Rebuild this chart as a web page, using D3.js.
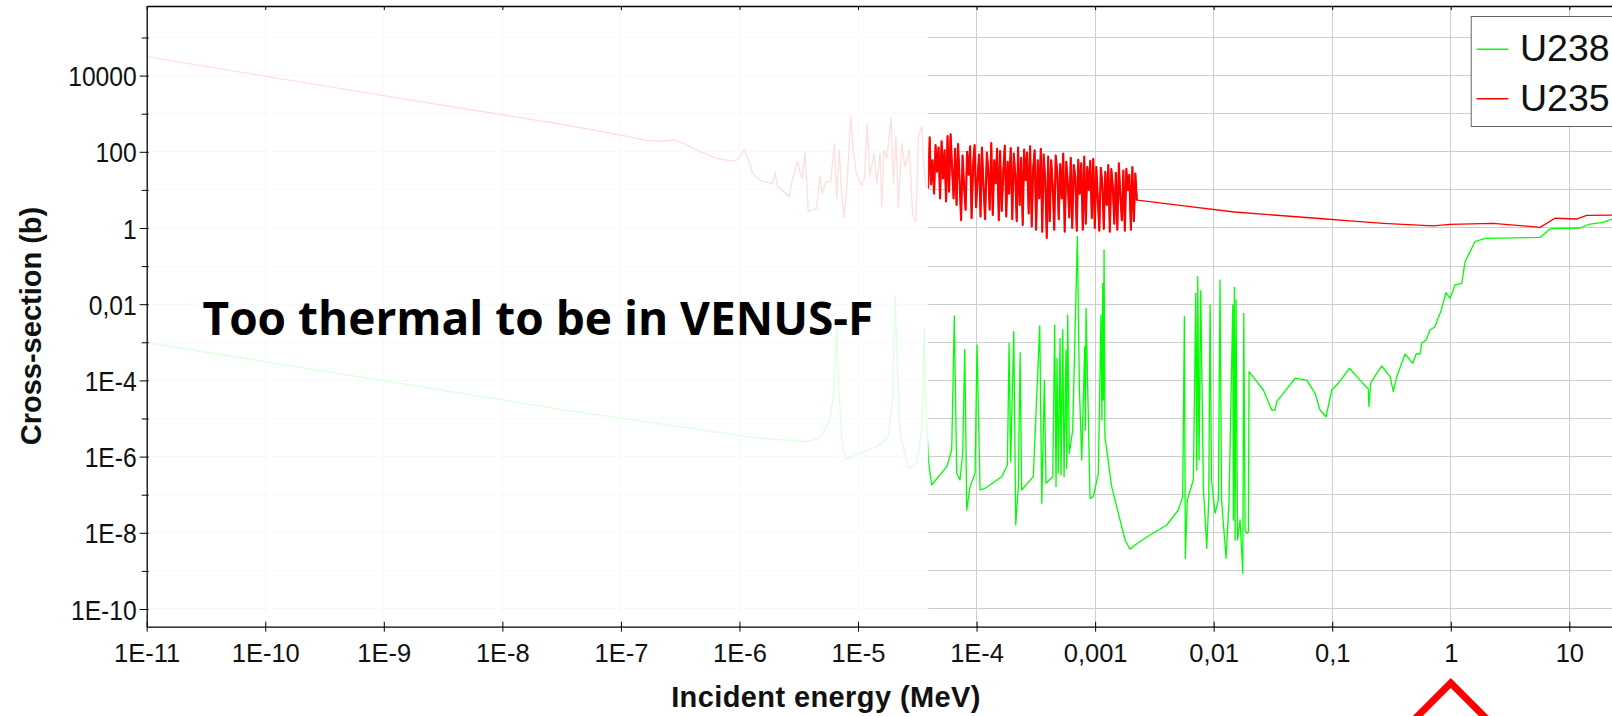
<!DOCTYPE html>
<html>
<head>
<meta charset="utf-8">
<title>Fission cross-sections U235 / U238</title>
<script src="https://cdn.jsdelivr.net/npm/d3@7"></script>
<style>
  body { margin: 0; background: #fff; }
  svg { display: block; }
</style>
</head>
<body>
<script>
// ticks
var xTicks = [1e-11, 1e-10, 1e-9, 1e-8, 1e-7, 1e-6, 1e-5, 1e-4, 1e-3, 1e-2, 1e-1, 1, 10];
var xTickLabels = ["1E-11", "1E-10", "1E-9", "1E-8", "1E-7", "1E-6", "1E-5", "1E-4", "0,001", "0,01", "0,1", "1", "10"];
var yTicks = [1e-10, 1e-8, 1e-6, 1e-4, 1e-2, 1, 100, 1e4];
var yTickLabels = ["1E-10", "1E-8", "1E-6", "1E-4", "0,01", "1", "100", "10000"];
var yMinorTicks = [1e-9, 1e-7, 1e-5, 1e-3, 0.1, 10, 1000, 1e5];

var seriesNames = ["U238", "U235"];
var seriesColors = ["#00ff00", "#ff0000"];

// energies below this are greyed out (too thermal)
var fadeEnergy = 3.9e-5;
var markerEnergy = 1;

// U235 (MeV, barn)
var u235LowE = [1e-11, 1.37e-9, 3.06e-8, 9.8e-8, 1.65e-7, 2.14e-7, 2.86e-7, 3.36e-7, 4.65e-7, 6.43e-7,
  8.6e-7, 9.78e-7, 1.10e-6, 1.19e-6, 1.29e-6, 1.49e-6, 1.91e-6, 2.0e-6, 2.09e-6, 2.63e-6,
  2.77e-6, 3.08e-6, 3.24e-6, 3.39e-6, 3.57e-6, 3.81e-6, 4.48e-6, 4.78e-6, 4.97e-6, 5.37e-6,
  5.88e-6, 6.31e-6, 6.61e-6, 6.95e-6, 7.33e-6, 7.66e-6, 8.12e-6, 8.68e-6, 9.13e-6, 9.62e-6,
  1.074e-5, 1.13e-5, 1.198e-5, 1.26e-5, 1.365e-5, 1.44e-5, 1.535e-5, 1.585e-5, 1.65e-5, 1.746e-5,
  1.90e-5, 1.985e-5, 2.09e-5, 2.19e-5, 2.34e-5, 2.49e-5, 2.71e-5, 2.89e-5, 3.08e-5, 3.23e-5,
  3.45e-5, 3.60e-5, 3.75e-5];
var u235LowXs = [31300, 2520, 537, 276, 200, 189, 204, 167, 101, 67.5,
  57.3, 63.6, 116, 61, 27.3, 17.4, 14.9, 28.3, 12.7, 6.63,
  16.4, 57.3, 30.0, 20.2, 101, 2.68, 3.29, 23.2, 8.14, 16.4,
  16.4, 160, 6.02, 111, 5.43, 1.91, 18.2, 834, 111, 30.0,
  12.7, 20.2, 537, 22.2, 91.3, 14.9, 91.3, 3.78, 111, 67.5,
  757, 14.9, 249, 3.49, 167, 40.6, 111, 2.19, 1.46, 226,
  476, 40.6, 12.1];

// resolved resonance band, energies in eV
var u235BandEv = [39.0, 40.2, 41.3, 42.5, 43.8, 45.1, 46.4, 47.8, 49.2, 50.7,
  52.2, 53.7, 55.3, 56.9, 58.6, 60.4, 62.1, 64.0, 65.9, 67.8,
  69.8, 71.9, 74.0, 76.2, 78.5, 80.8, 83.2, 85.6, 88.2, 90.8,
  93.5, 96.2, 99.1, 102, 105, 108, 111, 115, 118, 122,
  125, 129, 133, 137, 141, 145, 149, 154, 158, 163,
  168, 173, 178, 183, 188, 194, 200, 206, 212, 218,
  224, 231, 238, 245, 252, 260, 267, 275, 283, 292,
  300, 309, 318, 328, 338, 348, 358, 368, 379, 391,
  402, 414, 426, 439, 452, 465, 479, 493, 508, 523,
  538, 554, 571, 588, 605, 623, 641, 660, 680, 700,
  721, 742, 764, 787, 810, 834, 859, 884, 910, 937,
  965, 994, 1023, 1053, 1085, 1117, 1150, 1184, 1219, 1255,
  1292, 1330, 1370, 1410, 1452, 1495, 1539, 1585, 1632, 1680,
  1730, 1781, 1834, 1888, 1944, 2002, 2061, 2122, 2185, 2250];
var u235BandXs = [11, 240, 14, 60, 8, 150, 30, 130, 6, 190,
  20, 110, 5, 260, 9, 290, 40, 6, 120, 4,
  160, 18, 1.6, 80, 12, 3, 100, 25, 140, 1.8,
  45, 150, 3.5, 20, 85, 2, 130, 9, 1.7, 95,
  40, 3, 170, 2.2, 60, 15, 120, 1.6, 105, 2.8,
  30, 145, 2, 55, 8, 125, 1.7, 90, 25, 1.5,
  130, 4, 70, 1.2, 115, 18, 95, 2.4, 140, 1.1,
  35, 110, 0.9, 60, 6, 120, 0.8, 85, 20, 0.55,
  75, 1.5, 60, 12, 0.9, 80, 30, 1.7, 48, 6,
  90, 0.8, 55, 15, 1.9, 70, 1.0, 45, 22, 0.85,
  62, 8, 50, 0.9, 75, 1.3, 40, 10, 58, 1.8,
  65, 1.0, 40, 6, 0.85, 38, 15, 0.95, 30, 4,
  45, 0.8, 35, 12, 1.3, 28, 0.9, 50, 7, 1.6,
  32, 0.85, 36, 10, 25, 0.9, 40, 1.5, 27, 5.4];

var u235HighE = [2.9e-3, 5.4e-3, 0.0149, 0.0887, 0.141, 0.27, 0.708, 0.986, 2.27, 5.67, 7.57, 11.5, 14.0, 22.9];
var u235HighXs = [4.9, 3.87, 2.63, 1.72, 1.53, 1.33, 1.13, 1.25, 1.33, 1.04, 1.8, 1.72, 2.15, 2.19];

// U238 (MeV, barn)
var u238LowE = [1e-11, 1.37e-9, 3.06e-8, 1.49e-6, 3.69e-6, 4.78e-6, 5.8e-6, 6.27e-6, 6.61e-6, 6.82e-6,
  7.29e-6, 7.92e-6, 1.04e-5, 1.44e-5, 1.80e-5, 1.96e-5, 2.06e-5, 2.12e-5, 2.26e-5, 2.66e-5,
  3.13e-5, 3.45e-5, 3.55e-5, 3.62e-5, 3.72e-5, 3.92e-5];
var u238LowXs = [9.76e-4, 8.39e-5, 1.74e-5, 3.02e-6, 2.46e-6, 3.02e-6, 9.13e-6, 5.6e-5, 3.15e-3, 1.02e-4,
  2.73e-6, 8.49e-7, 1.22e-6, 1.82e-6, 3.33e-6, 3.73e-5, 0.0164, 7.66e-4, 4.09e-6, 4.93e-7,
  6.67e-7, 4.99e-6, 1.02e-4, 2.33e-3, 3.73e-5, 8.14e-7];

var u238MidE = [4.18e-5, 5.6e-5, 6.17e-5, 6.49e-5, 6.80e-5, 7.25e-5, 7.64e-5, 7.95e-5, 8.26e-5, 8.81e-5,
  9.71e-5, 1.009e-4, 1.07e-4, 1.18e-4, 1.63e-4, 1.82e-4, 1.88e-4, 1.94e-4, 2.06e-4, 2.14e-4,
  2.25e-4, 2.33e-4, 2.40e-4, 3.01e-4, 3.41e-4, 3.55e-4, 3.73e-4, 3.85e-4, 4.39e-4, 4.56e-4,
  4.68e-4, 4.77e-4, 4.89e-4, 5.06e-4, 5.16e-4, 5.33e-4, 5.47e-4, 5.68e-4, 5.76e-4, 5.87e-4,
  6.06e-4, 6.47e-4, 7.08e-4, 7.36e-4, 7.71e-4, 8.17e-4, 8.27e-4, 8.38e-4, 9.06e-4, 9.66e-4,
  1.064e-3, 1.12e-3, 1.14e-3, 1.16e-3, 1.173e-3, 1.19e-3, 1.21e-3, 1.38e-3, 1.57e-3, 1.79e-3,
  1.97e-3, 2.17e-3, 2.90e-3, 4.02e-3, 5.03e-3, 5.48e-3, 5.66e-3, 5.77e-3, 5.99e-3, 6.74e-3,
  7.06e-3, 7.20e-3, 7.34e-3, 7.52e-3, 7.78e-3, 8.18e-3, 8.74e-3, 9.09e-3, 9.32e-3, 9.59e-3,
  0.01027, 0.01095, 0.01131, 0.01165, 0.01272, 0.01348, 0.01449, 0.01466, 0.01494, 0.01515,
  0.01545, 0.0159, 0.01669, 0.0176, 0.01794, 0.01839, 0.01912, 0.01962, 0.01989];
var u238MidXs = [1.80e-7, 5.43e-7, 1.49e-6, 4.9e-3, 3.65e-7, 2.43e-7, 1.22e-6, 6.55e-4, 3.97e-8, 1.62e-7,
  3.65e-7, 8.49e-4, 1.33e-7, 1.47e-7, 2.97e-7, 6.02e-7, 9.41e-4, 7.35e-7, 1.90e-3, 1.60e-8,
  1.62e-7, 5.33e-4, 1.33e-7, 2.97e-7, 2.68e-3, 5.95e-8, 1.02e-4, 1.99e-7, 2.97e-7, 2.85e-3,
  1.62e-7, 3.8e-4, 3.65e-7, 1.27e-3, 3.29e-7, 2.10e-3, 2.97e-7, 6.28e-4, 4.93e-7, 5.21e-3,
  1.22e-6, 4.99e-6, 0.591, 6.83e-5, 8.14e-7, 7.66e-4, 4.99e-6, 7.81e-3, 8.04e-8, 8.86e-8,
  3.65e-7, 5.21e-3, 9.13e-6, 0.0354, 3.06e-5, 0.265, 3.33e-6, 1.62e-7, 3.25e-8, 6.47e-9,
  3.69e-9, 4.78e-9, 8.76e-9, 1.60e-8, 3.97e-8, 8.86e-8, 4.70e-3, 2.14e-9, 7.26e-8, 2.43e-7,
  0.0193, 4.45e-7, 0.0527, 8.14e-7, 0.0226, 1.62e-7, 3.92e-9, 7.26e-8, 9.53e-3, 2.43e-7,
  3.25e-8, 7.26e-8, 0.0432, 7.26e-8, 2.14e-9, 7.26e-8, 9.53e-3, 2.17e-8, 0.0278, 6.47e-9,
  0.0129, 6.47e-9, 2.17e-8, 8.65e-10, 5.77e-3, 1.18e-8, 9.7e-9, 1.07e-8, 1.69e-4];

var u238HighE = [0.02624, 0.0309, 0.0330, 0.0340, 0.0387, 0.0486, 0.0610, 0.0716, 0.0789, 0.0887,
  0.0991, 0.1126, 0.1395, 0.1717, 0.2017, 0.2037, 0.2113, 0.2617, 0.3075, 0.328,
  0.350, 0.4115, 0.4778, 0.5095, 0.5508, 0.569, 0.619, 0.669, 0.737, 0.770,
  0.823, 0.912, 0.986, 1.087, 1.238, 1.32, 1.60, 1.946, 5.69, 6.91,
  12.3, 14.95, 19.2, 22.9];
var u238HighXs = [5.6e-5, 1.67e-5, 1.67e-5, 2.76e-5, 4.59e-5, 1.14e-4, 1.02e-4, 4.59e-5, 1.67e-5, 1.11e-5,
  5.6e-5, 8.39e-5, 2.08e-4, 1.02e-4, 5.84e-5, 2.04e-5, 8.7e-5, 2.39e-4, 1.25e-4, 5.05e-5,
  1.25e-4, 4.93e-4, 2.81e-4, 4.93e-4, 4.93e-4, 9.41e-4, 1.15e-3, 2.10e-3, 2.57e-3, 3.85e-3,
  6.36e-3, 0.02, 0.0143, 0.0319, 0.0354, 0.1305, 0.437, 0.537, 0.570, 0.958,
  1.0, 1.27, 1.41, 1.72];

var width = 1612, height = 716;
var plotLeft = 146.7, plotTop = 6, plotRight = 1612, plotBottom = 626.7;
var xMin = 1e-11, xMax = 22.9, yMin = 3.43e-11, yMax = 6.71e5;
var font = '"Liberation Sans", Arial, sans-serif';

var x = d3.scaleLog().domain([xMin, xMax]).range([plotLeft, plotRight]);
var y = d3.scaleLog().domain([yMin, yMax]).range([plotBottom, plotTop]);

var u235Band = d3.zip(u235BandEv.map(function(e) { return e * 1e-6; }), u235BandXs);
var u235 = d3.zip(u235LowE, u235LowXs).concat(u235Band, d3.zip(u235HighE, u235HighXs));
var u238 = d3.zip(
  u238LowE.concat(u238MidE, u238HighE),
  u238LowXs.concat(u238MidXs, u238HighXs));

var svg = d3.select("body").append("svg")
  .attr("width", width)
  .attr("height", height);

svg.append("defs").append("clipPath").attr("id", "plotClip")
  .append("rect")
  .attr("x", plotLeft).attr("y", plotTop)
  .attr("width", plotRight - plotLeft).attr("height", plotBottom - plotTop);

// grid
var grid = svg.append("g")
  .attr("stroke", "#cecece")
  .attr("stroke-width", 1)
  .attr("shape-rendering", "crispEdges");
grid.selectAll(".vgrid").data(xTicks.slice(1)).enter().append("line")
  .attr("x1", function(d) { return x(d); }).attr("x2", function(d) { return x(d); })
  .attr("y1", plotTop).attr("y2", plotBottom);
grid.selectAll(".hgrid").data(yTicks.concat(yMinorTicks)).enter().append("line")
  .attr("x1", plotLeft).attr("x2", plotRight)
  .attr("y1", function(d) { return y(d); }).attr("y2", function(d) { return y(d); });

// curves
var line = d3.line()
  .x(function(d) { return x(d[0]); })
  .y(function(d) { return y(d[1]); });

var curves = svg.append("g").attr("clip-path", "url(#plotClip)");
[u238, u235].forEach(function(data, i) {
  curves.append("path")
    .datum(data)
    .attr("fill", "none")
    .attr("stroke", seriesColors[i])
    .attr("stroke-width", 1.3)
    .attr("stroke-linejoin", "round")
    .attr("d", line);
});
// resonance band reads as a solid mass in the original, draw it heavier
curves.append("path")
  .datum(u235Band)
  .attr("fill", "none")
  .attr("stroke", seriesColors[1])
  .attr("stroke-width", 2.1)
  .attr("stroke-linejoin", "round")
  .attr("d", line);

// thermal region washed out
svg.append("rect")
  .attr("x", plotLeft)
  .attr("y", plotTop)
  .attr("width", x(fadeEnergy) - plotLeft)
  .attr("height", plotBottom - plotTop)
  .attr("fill", "#fff")
  .attr("fill-opacity", 0.87);

// axes
var xAxis = svg.append("g")
  .attr("transform", "translate(0," + plotBottom + ")")
  .call(d3.axisBottom(x).tickValues(xTicks)
    .tickFormat(function(d, i) { return xTickLabels[i]; })
    .tickSizeOuter(0));
xAxis.selectAll(".tick line").attr("y1", -5).attr("y2", 5).attr("stroke", "#000");
xAxis.selectAll(".tick text")
  .attr("y", 35).attr("dy", 0)
  .attr("font-family", font).attr("font-size", 25.5).attr("fill", "#111");
xAxis.select(".domain").attr("stroke", "#000").attr("stroke-width", 1.3);

var topAxis = svg.append("g")
  .attr("transform", "translate(0," + plotTop + ")")
  .call(d3.axisTop(x).tickValues(xTicks).tickFormat("").tickSizeInner(-4).tickSizeOuter(0));
topAxis.selectAll(".tick line").attr("stroke", "#000");
topAxis.select(".domain").attr("stroke", "#000").attr("stroke-width", 1.3);

var yAxis = svg.append("g")
  .attr("transform", "translate(" + plotLeft + ",0)")
  .call(d3.axisLeft(y).tickValues(yTicks)
    .tickFormat(function(d, i) { return yTickLabels[i]; })
    .tickSizeOuter(0));
yAxis.selectAll(".tick line").attr("x1", 2).attr("x2", -7).attr("stroke", "#000");
// labels are drawn a little narrow
yAxis.selectAll(".tick text")
  .attr("x", -10 / 0.88).attr("dy", "0.36em")
  .attr("transform", "scale(0.88,1)")
  .attr("font-family", font).attr("font-size", 28).attr("fill", "#111");
yAxis.select(".domain").attr("stroke", "#000").attr("stroke-width", 1.3);

var yMinor = svg.append("g")
  .attr("transform", "translate(" + plotLeft + ",0)")
  .call(d3.axisLeft(y).tickValues(yMinorTicks).tickFormat("").tickSizeOuter(0));
yMinor.selectAll(".tick line").attr("x1", 2).attr("x2", -5).attr("stroke", "#000");
yMinor.select(".domain").remove();

// axis titles
svg.append("text")
  .attr("transform", "translate(40.7,326) rotate(-90)")
  .attr("text-anchor", "middle")
  .attr("font-family", font).attr("font-weight", "bold").attr("font-size", 29)
  .attr("fill", "#111")
  .text("Cross-section (b)");

svg.append("text")
  .attr("x", 826).attr("y", 706.7)
  .attr("text-anchor", "middle")
  .attr("font-family", font).attr("font-weight", "bold").attr("font-size", 29)
  .attr("letter-spacing", 0.4)
  .attr("fill", "#111")
  .text("Incident energy (MeV)");

// annotation
svg.append("text")
  .attr("x", 202.5).attr("y", 335)
  .attr("font-family", '"Open Sans", "Noto Sans", sans-serif')
  .attr("font-weight", 700).attr("font-size", 46)
  .attr("fill", "#000")
  .text("Too thermal to be in VENUS-F");

var mx = x(markerEnergy);
svg.append("path")
  .attr("d", d3.line()([[mx - 75, 683 + 75], [mx, 683], [mx + 75, 683 + 75]]))
  .attr("fill", "none")
  .attr("stroke", "#ff0000")
  .attr("stroke-width", 7)
  .attr("stroke-linejoin", "miter");

// legend
var legend = svg.append("g").attr("transform", "translate(1470.7,16)");
legend.append("rect")
  .attr("x", 0.5).attr("y", 0.5)
  .attr("width", 200).attr("height", 110)
  .attr("fill", "#fff")
  .attr("stroke", "#666")
  .attr("stroke-width", 1);
seriesNames.forEach(function(name, i) {
  var ly = 33.3 + i * 49.4;
  legend.append("line")
    .attr("x1", 6).attr("x2", 37.6)
    .attr("y1", ly).attr("y2", ly)
    .attr("stroke", seriesColors[i])
    .attr("stroke-width", 1.5);
  legend.append("text")
    .attr("x", 49.3).attr("y", ly + 12)
    .attr("font-family", font).attr("font-size", 37.5)
    .attr("fill", "#111")
    .text(name);
});
</script>
</body>
</html>
